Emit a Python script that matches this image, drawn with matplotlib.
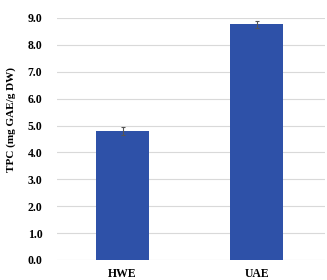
import matplotlib.pyplot as plt

plt.rcParams['font.family'] = ['Liberation Serif', 'DejaVu Serif']

# data
methods = ['HWE', 'UAE']
tpc = [4.80, 8.76]
tpc_err = [0.15, 0.14]
yticks = [0, 1, 2, 3, 4, 5, 6, 7, 8, 9]

fig = plt.figure(figsize=(3.27, 2.80), dpi=100)
ax = fig.add_axes([57 / 327, 20 / 280, 268 / 327, 242 / 280])

x = range(len(methods))
ax.bar(x, tpc, width=0.4, color='#2E51A8', zorder=2,
       yerr=tpc_err, error_kw=dict(ecolor='#555555', elinewidth=0.8, capsize=1.5, capthick=0.8))

ax.set_xlim(-0.49, 1.51)
ax.set_ylim(0, 9)
ax.set_yticks(yticks)
ax.set_yticklabels([f'{v:.1f}' for v in yticks], fontsize=8.5, fontweight='bold')
ax.set_xticks(list(x))
ax.set_xticklabels(methods, fontsize=8.5, fontweight='bold')
ax.set_ylabel('TPC (mg GAE/g DW)', fontsize=8, fontweight='bold')
ax.yaxis.set_label_coords(-0.152, 0.58)

ax.grid(axis='y', color='#D9D9D9', linewidth=0.8, zorder=0)
for s in ax.spines.values():
    s.set_visible(False)
ax.tick_params(length=0, pad=6)
ax.tick_params(axis='y', pad=21)
for lab in ax.get_yticklabels():
    lab.set_horizontalalignment('left')

fig.savefig('out.png', dpi=100)
